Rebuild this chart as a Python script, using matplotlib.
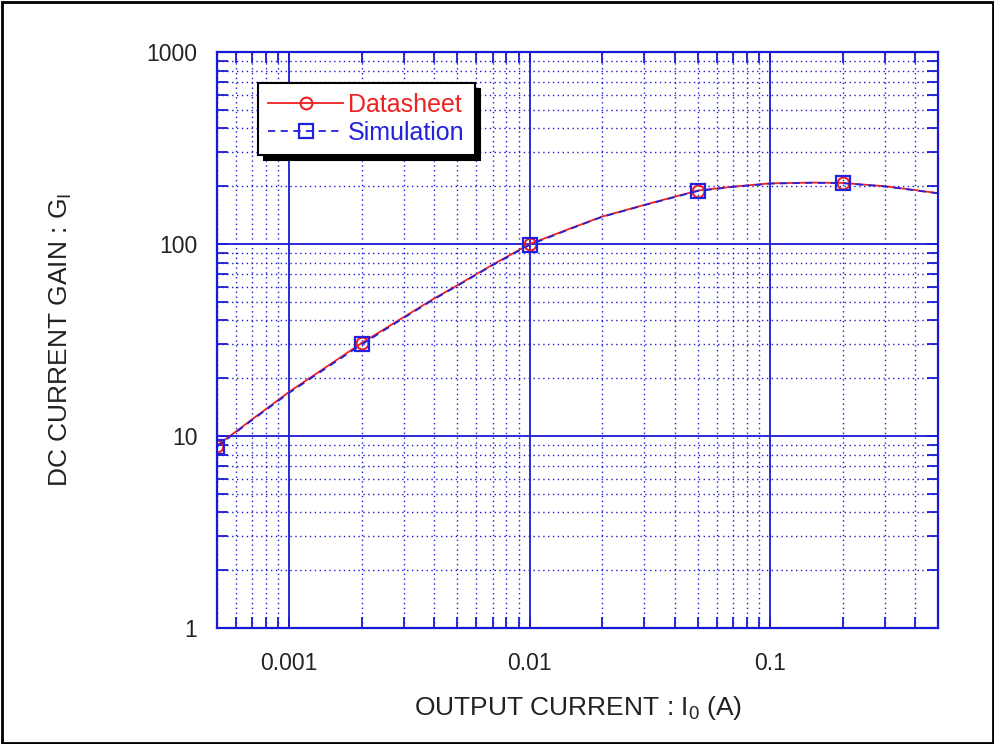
import numpy as np
import matplotlib
matplotlib.use('Agg')
import matplotlib.pyplot as plt

plt.rcParams['font.family'] = ['Liberation Sans', 'DejaVu Sans']
plt.rcParams['mathtext.fontset'] = 'custom'
plt.rcParams['mathtext.rm'] = 'Liberation Sans'
plt.rcParams['mathtext.it'] = 'Liberation Sans'

# data
io_curve = [0.0005, 0.0007, 0.001, 0.0015, 0.002, 0.003, 0.004, 0.005, 0.007, 0.01,
            0.015, 0.02, 0.03, 0.05, 0.07, 0.1, 0.15, 0.2, 0.3, 0.4, 0.5]
gain_datasheet = [8.9, 12.2, 17.0, 23.9, 30.5, 41.7, 52.0, 61.0, 78.0, 100.0,
                  121.5, 139.0, 160.0, 190.0, 199.0, 207.0, 209.0, 208.0, 200.0, 191.0, 184.0]
gain_simulation = [8.8, 12.1, 16.8, 23.6, 30.0, 41.3, 51.6, 60.6, 77.5, 99.0,
                   121.0, 138.5, 159.5, 189.0, 198.5, 206.5, 208.5, 207.5, 199.5, 190.5, 183.5]
marker_io = [0.0005, 0.002, 0.01, 0.05, 0.2]
marker_idx = [io_curve.index(v) for v in marker_io]

fig = plt.figure(figsize=(9.95, 7.44), dpi=100)
ax = fig.add_axes([0.218, 0.156, 0.725, 0.774])

ax.plot(io_curve, gain_datasheet, '-', color='#ee2222', lw=1.3, marker='o', ms=8.5,
        mfc='none', mec='#ee2222', mew=1.5, markevery=marker_idx, label='Datasheet')
ax.plot(io_curve, gain_simulation, '--', color='#2222dd', lw=1.3, marker='s', ms=9.5,
        mfc='none', mec='#2222dd', mew=1.6, markevery=marker_idx, label='Simulation',
        dashes=(4, 3))

ax.set_xscale('log')
ax.set_yscale('log')
ax.set_xlim(0.0005, 0.5)
ax.set_ylim(1, 1000)

ax.grid(True, which='major', color='#1a1ad6', lw=1.3, ls='-')
ax.grid(True, which='minor', color='#1a1ad6', lw=1.0, ls=(0, (1, 2.5)))
for s in ax.spines.values():
    s.set_color('#1a1ad6')
    s.set_linewidth(1.6)
ax.tick_params(which='both', direction='in', color='#1a1ad6', top=True, right=True)
ax.tick_params(which='major', length=8, width=1.3)
ax.tick_params(which='minor', length=8, width=1.3)
ax.tick_params(axis='x', which='major', pad=17, labelsize=16.5, labelcolor='#222222')
ax.tick_params(axis='y', which='major', pad=14, labelsize=16.5, labelcolor='#222222')

ax.set_xticks([0.001, 0.01, 0.1])
ax.set_xticklabels(['0.001', '0.01', '0.1'])
ax.set_yticks([1, 10, 100, 1000])
ax.set_yticklabels(['1', '10', '100', '1000'])
ax.xaxis.set_minor_formatter(matplotlib.ticker.NullFormatter())
ax.yaxis.set_minor_formatter(matplotlib.ticker.NullFormatter())

ax.set_xlabel('OUTPUT CURRENT : I$_0$ (A)', fontsize=19, color='#222222', labelpad=14)
ax.set_ylabel('DC CURRENT GAIN : G$_\\mathrm{I}$', fontsize=19, color='#222222', labelpad=52)

leg = ax.legend(loc='upper left', bbox_to_anchor=(0.057, 0.946), fontsize=18,
                handlelength=3.0, fancybox=False, framealpha=1, edgecolor='black',
                labelcolor='linecolor', borderpad=0.4, handletextpad=0.2,
                labelspacing=0.15, borderaxespad=0,
                shadow={'color': 'black', 'alpha': 1, 'ox': 4, 'oy': -4})
leg.get_frame().set_linewidth(1.5)

# outer border around figure
fig.patches.append(matplotlib.patches.Rectangle((0.002, 0.002), 0.996, 0.995, transform=fig.transFigure,
                                                fill=False, edgecolor='black', lw=2))

fig.savefig('out.png', dpi=100)
